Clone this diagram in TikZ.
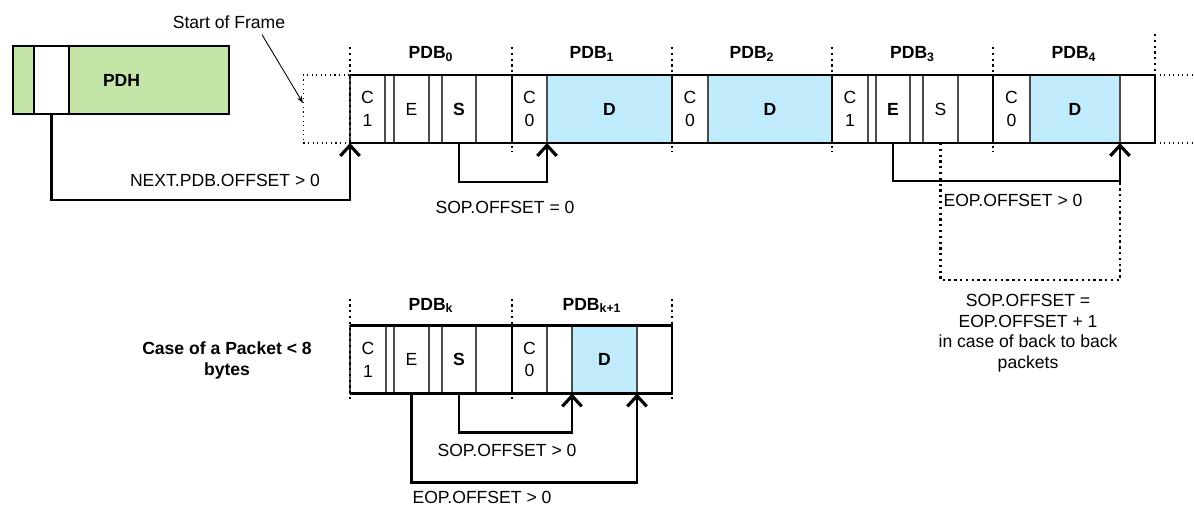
\documentclass[tikz,border=0pt]{standalone}
\usepackage{fontspec}
\setmainfont{Liberation Sans}
\usetikzlibrary{positioning,arrows.meta,calc}
\definecolor{pdhgreen}{RGB}{197,229,168}
\definecolor{pdbblue}{RGB}{191,235,250}

\begin{document}
\begin{tikzpicture}[
  cell/.style={draw=black!70, line width=0.7pt, rectangle, minimum height=1.36cm, inner sep=0pt, outer sep=0pt, align=center, font=\fontsize{10}{13}\selectfont},
  key/.style={cell, font=\fontsize{10}{13}\selectfont\bfseries},
  data/.style={key, fill=pdbblue},
  edge/.style={line width=1.4pt},
  bound/.style={line width=1.3pt, dotted},
  link/.style={line width=1.2pt, -{Straight Barb[length=6pt,width=11pt,line width=1.8pt]}},
  lbl/.style={font=\fontsize{10}{12}\selectfont, align=center},
  pdb/.style={font=\fontsize{10}{12}\selectfont\bfseries}
]
\useasboundingbox (0,0) rectangle (23.88,-10.16);

% PDH
\node (pa) [cell, draw=black, fill=pdhgreen, minimum width=0.42cm] at (0.47,-1.60) {};
\node (pb) [cell, draw=black, minimum width=0.70cm, right=0pt of pa] {};
\node (pc) [key, draw=black, fill=pdhgreen, minimum width=3.20cm, text width=1.84cm, inner xsep=0.68cm, align=left, right=0pt of pb] {PDH};
\draw[edge] (pa.north west) rectangle (pc.south east);

% frame of PDBs
\node (c10) [cell, minimum width=0.70cm] at (7.35,-2.18) {C\\1};
\node (n10) [cell, minimum width=0.18cm, right=0pt of c10] {};
\node (e0) [cell, minimum width=0.70cm, right=0pt of n10] {E};
\node (n20) [cell, minimum width=0.26cm, right=0pt of e0] {};
\node (s0) [key, minimum width=0.68cm, right=0pt of n20] {S};
\node (b0) [cell, minimum width=0.72cm, right=0pt of s0] {};
\node (c1) [cell, minimum width=0.70cm, right=0pt of b0] {C\\0};
\node (d1) [data, minimum width=2.50cm, right=0pt of c1] {D};
\node (c2) [cell, minimum width=0.72cm, right=0pt of d1] {C\\0};
\node (d2) [data, minimum width=2.48cm, right=0pt of c2] {D};
\node (c13) [cell, minimum width=0.72cm, right=0pt of d2] {C\\1};
\node (n13) [cell, minimum width=0.16cm, right=0pt of c13] {};
\node (e3) [key, minimum width=0.68cm, right=0pt of n13] {E};
\node (n23) [cell, minimum width=0.26cm, right=0pt of e3] {};
\node (s3) [cell, minimum width=0.70cm, right=0pt of n23] {S};
\node (b3) [cell, minimum width=0.70cm, right=0pt of s3] {};
\node (c4) [cell, minimum width=0.74cm, right=0pt of b3] {C\\0};
\node (d4) [data, minimum width=1.80cm, right=0pt of c4] {D};
\node (b4) [cell, minimum width=0.70cm, right=0pt of d4] {};

\draw[edge] (c10.north west) -- (b4.north east) -- (b4.south east) -- (c10.south west);
\foreach \n in {c1,c2,c13,c4} {
  \draw[edge] (\n.north west) -- (\n.south west);
  \draw[bound] ([yshift=0.56cm]\n.north west) -- ([yshift=-0.18cm]\n.south west);
}
\draw[bound] ([yshift=0.56cm]c10.north west) -- (c10.south west);
\draw[bound] ([yshift=0.82cm]b4.north east) -- (b4.north east);

\node (sof) [draw, dotted, line width=0.6pt, minimum width=0.92cm, minimum height=1.36cm, inner sep=0pt, left=0pt of c10] {};
\draw[dotted, line width=0.6pt] (b4.north east) -- ++(0.8,0);
\draw[dotted, line width=0.6pt] (b4.south east) -- ++(0.8,0);
\node (sofl) [lbl] at (4.58,-0.44) {Start of Frame};
\draw[-{Stealth[length=4pt,width=3pt]}, line width=0.5pt] ([xshift=0.66cm]sofl.south) -- ([yshift=0.12cm]sof.west);

\node (l0) [pdb] at ($(c10.north west)!0.5!(b0.north east)+(0,0.42)$) {PDB\textsubscript{0}};
\node (l1) [pdb] at ($(c1.north west)!0.5!(d1.north east)+(0,0.42)$) {PDB\textsubscript{1}};
\node (l2) [pdb] at ($(c2.north west)!0.5!(d2.north east)+(0,0.42)$) {PDB\textsubscript{2}};
\node (l3) [pdb] at ($(c13.north west)!0.5!(b3.north east)+(0,0.42)$) {PDB\textsubscript{3}};
\node (l4) [pdb] at ($(c4.north west)!0.5!(b4.north east)+(0,0.42)$) {PDB\textsubscript{4}};

\draw[link] (pb.south) -- ++(0,-1.72) -| (c10.south west);
\node (nxt) [lbl] at (4.50,-3.60) {NEXT.PDB.OFFSET > 0};
\draw[link] (s0.south) -- ++(0,-0.78) -| (d1.south west);
\node (sop0) [lbl] at (10.10,-4.14) {SOP.OFFSET = 0};
\draw[bound, line width=1.2pt] (s3.south) -- ++(0,-2.74) -| ([yshift=-0.2cm]d4.south east);
\draw[link] (e3.south) -- ++(0,-0.76) -| (d4.south east);
\node (eop3) [lbl] at (20.26,-4.00) {EOP.OFFSET > 0};
\node (b2b) [lbl, font=\fontsize{10}{11.7}\selectfont] at (20.56,-6.66) {SOP.OFFSET =\\EOP.OFFSET + 1\\in case of back to back\\packets};

% short packet
\node (case) [pdb, align=center] at (4.54,-7.20) {Case of a Packet < 8\\bytes};
\node (c1k) [cell, minimum width=0.72cm] at (7.36,-7.19) {C\\1};
\node (n1k) [cell, minimum width=0.16cm, right=0pt of c1k] {};
\node (ek) [cell, minimum width=0.70cm, right=0pt of n1k] {E};
\node (n2k) [cell, minimum width=0.26cm, right=0pt of ek] {};
\node (sk) [key, minimum width=0.68cm, right=0pt of n2k] {S};
\node (bk) [cell, minimum width=0.72cm, right=0pt of sk] {};
\node (ck1) [cell, minimum width=0.70cm, right=0pt of bk] {C\\0};
\node (gk1) [cell, minimum width=0.50cm, right=0pt of ck1] {};
\node (dk1) [data, minimum width=1.30cm, right=0pt of gk1] {D};
\node (bk1) [cell, minimum width=0.70cm, right=0pt of dk1] {};

\draw[edge] (c1k.north west) -- (bk1.north east) -- (bk1.south east) -- (c1k.south west);
\draw[edge] (ck1.north west) -- (ck1.south west);
\draw[bound] ([yshift=0.54cm]c1k.north west) -- ([yshift=-0.16cm]c1k.south west);
\draw[bound] ([yshift=0.54cm]ck1.north west) -- ([yshift=-0.16cm]ck1.south west);
\draw[bound] ([yshift=0.54cm]bk1.north east) -- ([yshift=-0.16cm]bk1.south east);

\node (lk) [pdb] at ($(c1k.north west)!0.5!(bk.north east)+(0,0.40)$) {PDB\textsubscript{k}};
\node (lk1) [pdb] at ($(ck1.north west)!0.5!(bk1.north east)+(0,0.40)$) {PDB\textsubscript{k+1}};

\draw[link] (sk.south) -- ++(0,-0.78) -| (dk1.south west);
\node (sopk) [lbl] at (10.14,-9.00) {SOP.OFFSET > 0};
\draw[link] (ek.south) -- ++(0,-1.78) -| (dk1.south east);
\node (eopk) [lbl] at (9.64,-9.94) {EOP.OFFSET > 0};
\end{tikzpicture}
\end{document}
